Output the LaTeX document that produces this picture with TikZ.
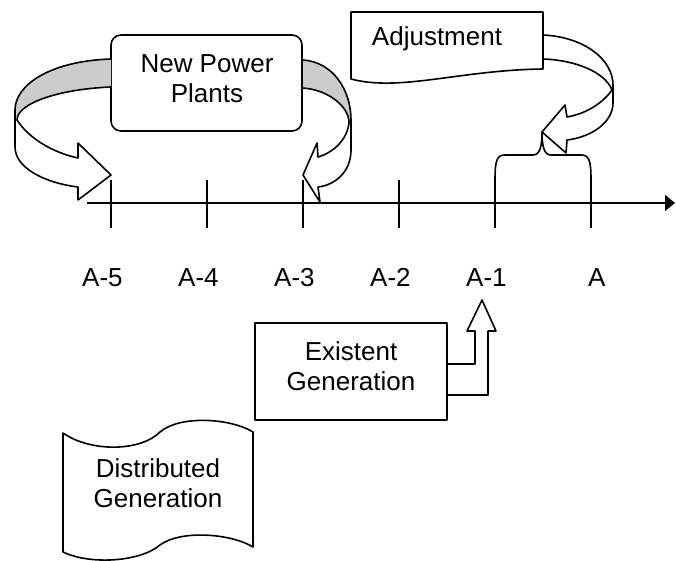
\documentclass[tikz,border=0pt]{standalone}
\usepackage{fontspec}
\setmainfont{Liberation Sans}
\usetikzlibrary{arrows.meta}
\tikzset{
  lbl/.style={font=\fontsize{26}{30}\selectfont, inner sep=0pt, align=center},
  ticklbl/.style={font=\fontsize{26}{30}\selectfont, inner sep=0pt, anchor=base west},
  shp/.style={draw=black, line width=1.6pt, line join=round},
  tickline/.style={line width=1.6pt},
}
\begin{document}
\begin{tikzpicture}[x=1pt,y=-1pt]
\useasboundingbox (0,0) rectangle (676,560);

% ---------- axis ----------
\coordinate (axs) at (87,203);
\coordinate (axe) at (675,203);
\draw[line width=1.6pt,-{Triangle[length=10pt,width=16pt]}] (axs) -- (axe);
\foreach \x/\n in {111/t5,207/t4,303/t3,399/t2,495/t1,591/t0}{
  \coordinate (\n top) at (\x,180);
  \coordinate (\n bot) at (\x,228);
  \draw[tickline] (\n top) -- (\n bot);
}
\node[ticklbl] (l5) at (82,286) {A-5};
\node[ticklbl] (l4) at (178,286) {A-4};
\node[ticklbl] (l3) at (274,286) {A-3};
\node[ticklbl] (l2) at (370,286) {A-2};
\node[ticklbl] (l1) at (466,286) {A-1};
\node[ticklbl] (l0) at (588,286) {A};

% ---------- brace over A-1 .. A ----------
\coordinate (bracetip) at (542,132);
\draw[shp,fill=none] (t1top) .. controls (495,160) and (497,155) .. (505,155) -- (533,155)
  .. controls (540,155) and (542,146) .. (bracetip)
  .. controls (542,146) and (544,155) .. (551,155) -- (581,155)
  .. controls (589,155) and (591,160) .. (t0top);

% ---------- New Power Plants ----------
\node[shp, rounded corners=10pt, minimum width=191pt, minimum height=96pt, inner sep=0pt] (npp) at (206.5,83) {};
\node[lbl] (npptxt) at (207,79) {New Power\\Plants};

% left curved arrow (to A-5)
\fill[gray!40] (111,59) .. controls (50,61) and (15,85) .. (15,110) -- (17,120)
  .. controls (17,103) and (60,89) .. (111,87) -- cycle;
\draw[shp] (111,59) .. controls (50,61) and (15,85) .. (15,110) -- (15,147)
  .. controls (15,168) and (45,183) .. (78,187) -- (78,200) -- (111,175) -- (78,143) -- (78,158)
  .. controls (55,153) and (30,140) .. (17,120) .. controls (17,103) and (60,89) .. (111,87);

% right curved arrow (to A-3)
\fill[gray!40] (303,60) .. controls (333,62) and (351,90) .. (351,120) -- (349,122)
  .. controls (349,108) and (330,90) .. (303,88) -- cycle;
\draw[shp] (303,60) .. controls (333,62) and (351,90) .. (351,120) -- (351,150)
  .. controls (351,172) and (335,185) .. (318,187) -- (320,202) -- (303,175) -- (317,143) -- (318,157)
  .. controls (335,152) and (348,138) .. (349,122) .. controls (349,108) and (330,90) .. (303,88);

% ---------- Adjustment ----------
\node[lbl] (adj) at (437,39) {Adjustment};
\draw[shp] (351,79) -- (351,12) -- (543,12) -- (543,69) .. controls (460,70) and (400,92) .. (351,79) -- cycle;
\draw[shp] (543,35) .. controls (585,37) and (613,60) .. (613,85) -- (613,103)
  .. controls (613,122) and (592,137) .. (567,140) -- (566,153) -- (bracetip) -- (565,105) -- (567,117)
  .. controls (590,113) and (605,100) .. (612,90) .. controls (605,72) and (575,60) .. (543,59);

% ---------- Existent Generation ----------
\node[shp, minimum width=192pt, minimum height=97pt, inner sep=0pt] (exbox) at (351,371.5) {};
\node[lbl] (ex) at (351,366) {Existent\\Generation};
\draw[shp] (447,364) -- (475,364) -- (475,331) -- (467,331) -- (482,300) -- (496,331) -- (488,331) -- (488,395) -- (447,395);

% ---------- Distributed Generation ----------
\draw[shp] (63,433) .. controls (90,452) and (140,452) .. (160,432) .. controls (180,415) and (230,418) .. (253,432)
  -- (253,547) .. controls (230,533) and (180,530) .. (160,545) .. controls (140,562) and (90,565) .. (63,552) -- cycle;
\node[lbl] (dg) at (158,483) {Distributed\\Generation};
\end{tikzpicture}
\end{document}
